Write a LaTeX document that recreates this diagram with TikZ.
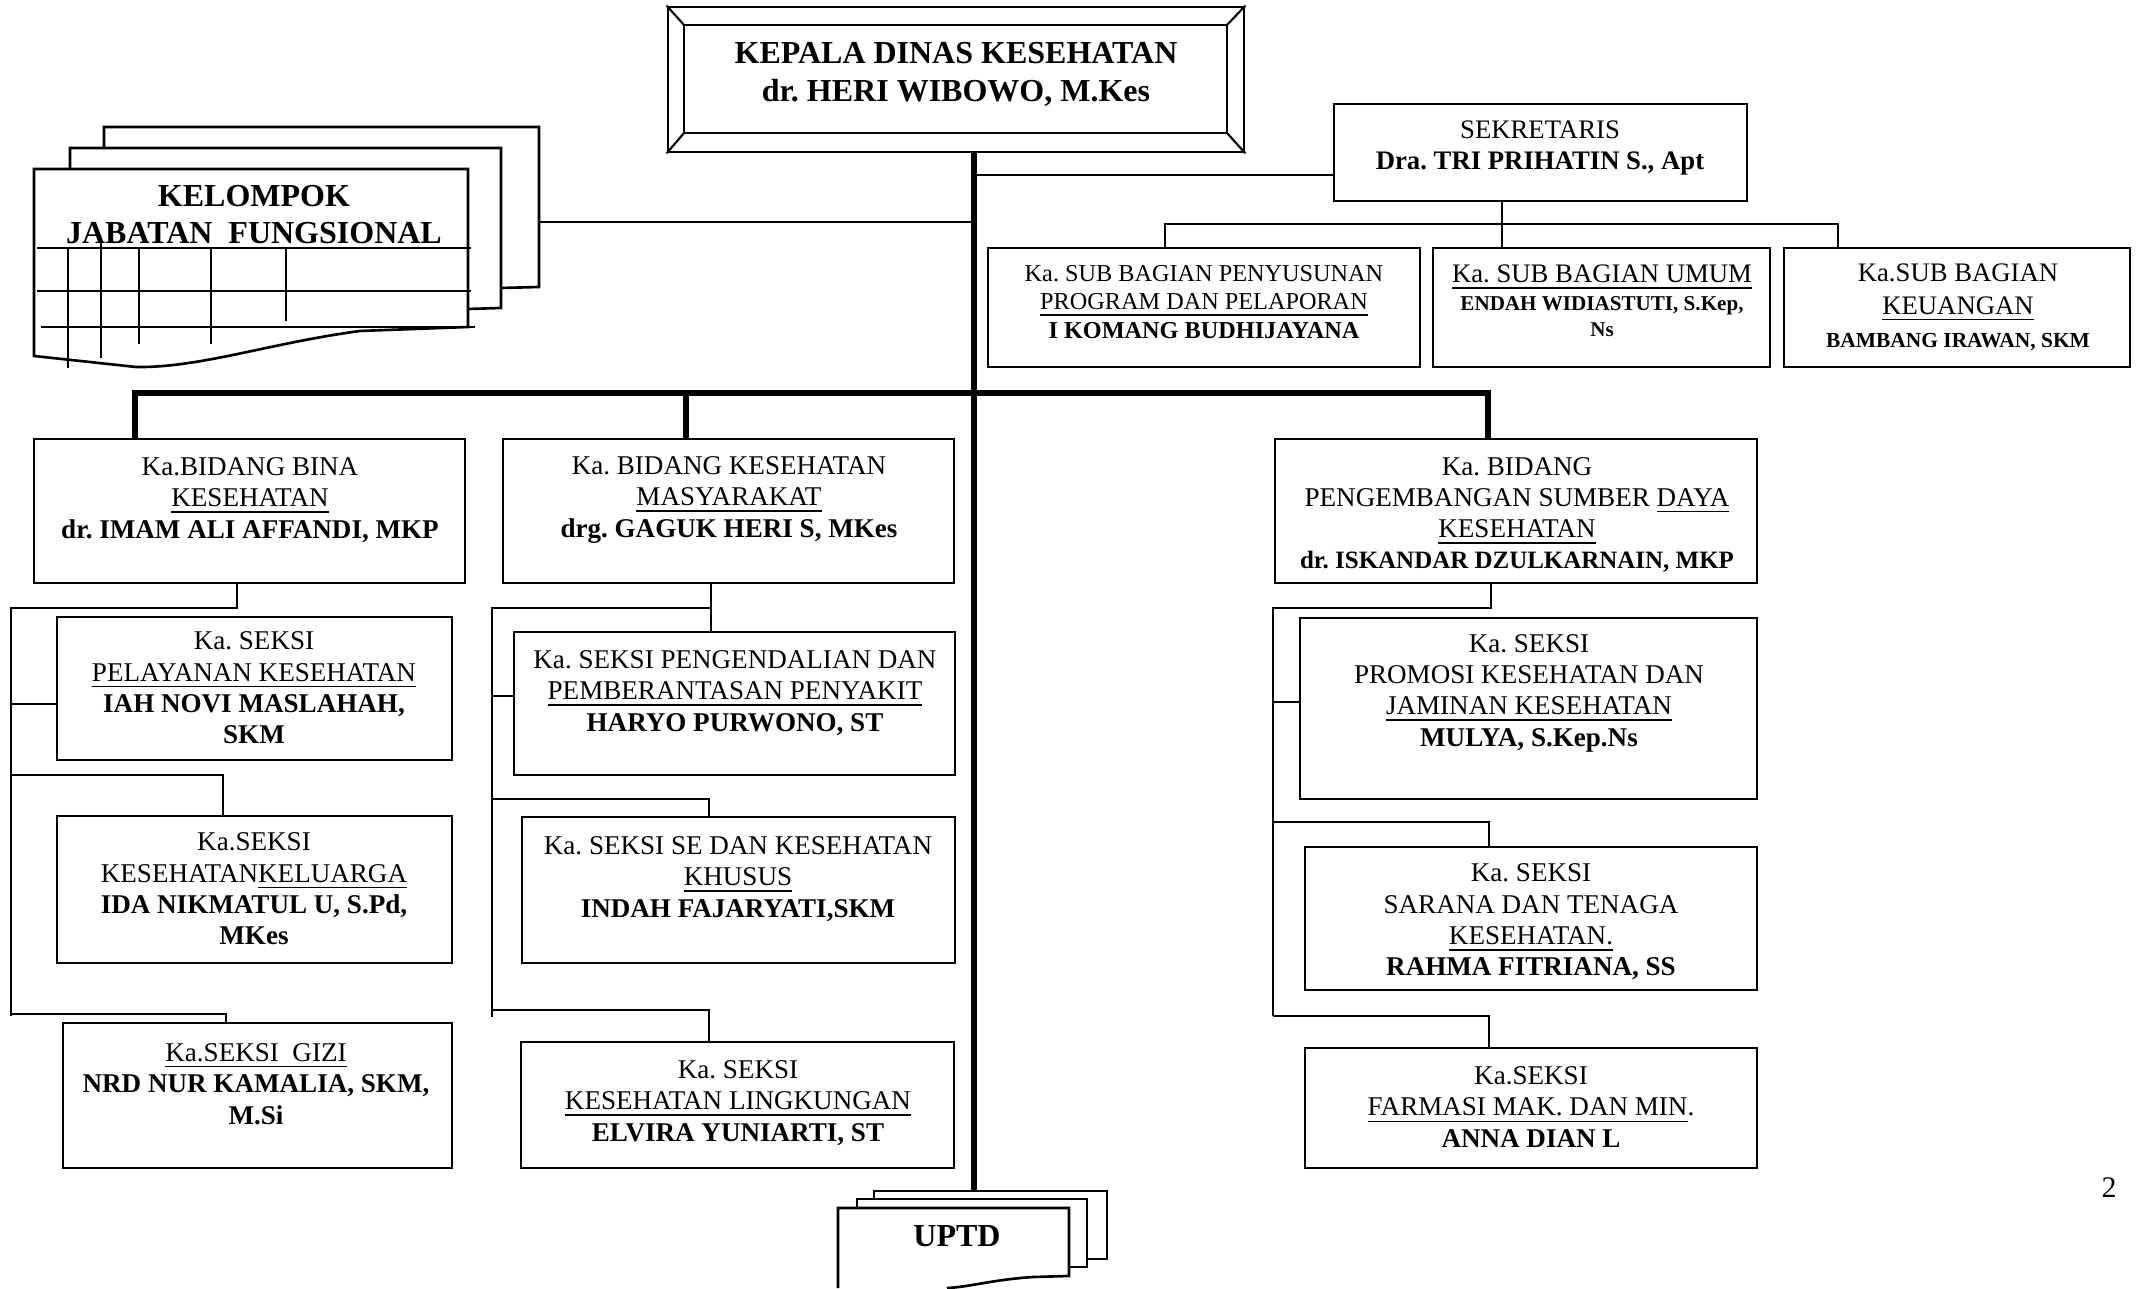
\documentclass[tikz,border=0pt]{standalone}
\usepackage{fontspec}
\setmainfont{Liberation Serif}
\usetikzlibrary{fit}
\frenchspacing
\begin{document}
\begin{tikzpicture}[x=0.01cm,y=-0.01cm,
  box/.style={draw,line width=0.75pt,inner sep=0pt},
  conn/.style={line width=0.6pt},
  heavy/.style={line width=1.5pt},
  sheet/.style={line width=0.75pt,line join=miter},
  txt/.style={align=center,inner sep=0pt,font=\fontsize{7.7}{8.9}\selectfont},
]
\useasboundingbox (0,0) rectangle (2139,1289);

% ---------- KEPALA ----------
\node[box,line width=0.8pt,fit={(668,7) (1244,152)}] (kepala) {};
\coordinate (ki1) at (684,25); \coordinate (ki2) at (1227,133);
\draw[line width=0.8pt] (ki1) rectangle (ki2);
\draw[line width=0.6pt] (kepala.north west) -- (ki1) (kepala.north east) -- (ki1 -| ki2)
  (kepala.south east) -- (ki2) (kepala.south west) -- (ki1 |- ki2);
\node[txt,font=\fontsize{9.1}{10.8}\selectfont\bfseries] (kepala-t) at (956,74)
  {KEPALA DINAS KESEHATAN\\dr. HERI WIBOWO, M.Kes};

% trunk
\coordinate (T) at (974,0);
\coordinate (uptdtop) at (974,1191);
\draw[heavy] (kepala.south -| T) -- (uptdtop);

% ---------- SEKRETARIS ----------
\node[box,fit={(1334,104) (1747,201)}] (sek) {};
\node[txt,font=\fontsize{7.6}{8.8}\selectfont] (sek-t) at (1540,148)
  {SEKRETARIS\\\textbf{Dra. TRI PRIHATIN S., Apt}};
\coordinate (sekj) at (974,175);
\draw[conn] (sekj) -- (sekj -| sek.west);

\coordinate (sb1) at (1165,224); \coordinate (sb2) at (1502,224); \coordinate (sb3) at (1838,224);
\node[box,fit={(988,248) (1420,367)}] (sub1) {};
\node[box,fit={(1433,248) (1770,367)}] (sub2) {};
\node[box,fit={(1784,248) (2130,367)}] (sub3) {};
\draw[conn] (sek.south -| sb2) -- (sb2);
\draw[conn] (sb1 |- sub1.north) -- (sb1) -- (sb3) -- (sb3 |- sub3.north);
\draw[conn] (sb2) -- (sb2 |- sub2.north);
\node[txt,font=\fontsize{6.9}{8}\selectfont] (sub1-t) at (1204,302)
  {Ka. SUB BAGIAN PENYUSUNAN\\\underline{PROGRAM DAN PELAPORAN}\\\textbf{I KOMANG BUDHIJAYANA}};
\node[txt,font=\fontsize{6}{7.4}\selectfont] (sub2-t) at (1602,301)
  {{\fontsize{7.6}{8.8}\selectfont\underline{Ka. SUB BAGIAN UMUM}}\\[0.6pt]\textbf{ENDAH WIDIASTUTI, S.Kep,}\\\textbf{Ns}};
\node[txt,font=\fontsize{7.6}{9.4}\selectfont] (sub3-t) at (1958,307)
  {Ka.SUB BAGIAN\\\underline{KEUANGAN}\\{\fontsize{6.1}{9.4}\selectfont\bfseries BAMBANG IRAWAN, SKM}};

% ---------- main bus ----------
\node[box,fit={(34,439) (465,583)}] (bina) {};
\node[box,fit={(503,439) (954,583)}] (mas) {};
\node[box,fit={(1275,439) (1757,583)}] (peng) {};
\coordinate (busL) at (135,393); \coordinate (busM) at (686,393); \coordinate (busR) at (1488,393);
\draw[heavy] (busL |- bina.north) -- (busL) -- (busR) -- (busR |- peng.north);
\draw[heavy] (busM) -- (busM |- mas.north);

\node[txt] (bina-t) at (250,500)
  {Ka.BIDANG BINA\\\underline{KESEHATAN}\\\textbf{dr. IMAM ALI AFFANDI, MKP}};
\node[txt] (mas-t) at (729,500)
  {Ka. BIDANG KESEHATAN\\\underline{MASYARAKAT}\\\textbf{drg. GAGUK HERI S, MKes}};
\node[txt] (peng-t) at (1517,515)
  {Ka. BIDANG\\PENGEMBANGAN SUMBER \underline{DAYA}\\\underline{KESEHATAN}\\{\fontsize{7.1}{8.9}\selectfont\bfseries dr. ISKANDAR DZULKARNAIN, MKP}};

% ---------- left column ----------
\node[box,fit={(57,617) (452,760)}] (pel) {};
\node[box,fit={(57,816) (452,963)}] (kel) {};
\node[box,fit={(63,1023) (452,1168)}] (gizi) {};
\coordinate (bA) at (237,608); \coordinate (bB) at (11,608); \coordinate (bC) at (11,1016);
\draw[conn] (bina.south -| bA) -- (bA) -- (bB) -- (bC);
\coordinate (bT) at (11,704);
\draw[conn] (bT) -- (bT -| pel.west);
\coordinate (bD) at (11,775); \coordinate (bE) at (223,775);
\draw[conn] (bD) -- (bE) -- (bE |- kel.north);
\coordinate (bF) at (11,1014); \coordinate (bG) at (226,1014);
\draw[conn] (bF) -- (bG) -- (bG |- gizi.north);
\node[txt] (pel-t) at (254,688)
  {Ka. SEKSI\\\underline{PELAYANAN KESEHATAN}\\\textbf{IAH NOVI MASLAHAH,}\\\textbf{SKM}};
\node[txt] (kel-t) at (254,889)
  {Ka.SEKSI\\KESEHATAN\underline{KELUARGA}\\\textbf{IDA NIKMATUL U, S.Pd,}\\\textbf{MKes}};
\node[txt] (gizi-t) at (256,1084)
  {\underline{Ka.SEKSI\ \ GIZI}\\\textbf{NRD NUR KAMALIA, SKM,}\\\textbf{M.Si}};

% ---------- middle column ----------
\node[box,fit={(514,632) (955,775)}] (pen) {};
\node[box,fit={(522,817) (955,963)}] (se) {};
\node[box,fit={(521,1042) (954,1168)}] (ling) {};
\coordinate (mA) at (711,608); \coordinate (mB) at (492,608); \coordinate (mC) at (492,1017);
\draw[conn] (mas.south -| mA) -- (mA |- pen.north);
\draw[conn] (mA) -- (mB) -- (mC);
\coordinate (mT) at (492,696);
\draw[conn] (mT) -- (mT -| pen.west);
\coordinate (mD) at (492,799); \coordinate (mE) at (709,799);
\draw[conn] (mD) -- (mE) -- (mE |- se.north);
\coordinate (mF) at (492,1010); \coordinate (mG) at (709,1010);
\draw[conn] (mF) -- (mG) -- (mG |- ling.north);
\node[txt] (pen-t) at (735,693)
  {Ka. SEKSI PENGENDALIAN DAN\\\underline{PEMBERANTASAN PENYAKIT}\\\textbf{HARYO PURWONO, ST}};
\node[txt] (se-t) at (738,879)
  {Ka. SEKSI SE DAN KESEHATAN\\\underline{KHUSUS}\\\textbf{INDAH FAJARYATI,SKM}};
\node[txt] (ling-t) at (738,1103)
  {Ka. SEKSI\\\underline{KESEHATAN LINGKUNGAN}\\\textbf{ELVIRA YUNIARTI, ST}};

% ---------- right column ----------
\node[box,fit={(1300,618) (1757,799)}] (prom) {};
\node[box,fit={(1305,847) (1757,990)}] (sar) {};
\node[box,fit={(1305,1048) (1757,1168)}] (far) {};
\coordinate (rA) at (1491,608); \coordinate (rB) at (1273,608); \coordinate (rC) at (1273,1016);
\draw[conn] (peng.south -| rA) -- (rA) -- (rB) -- (rC);
\coordinate (rT) at (1273,702);
\draw[conn] (rT) -- (rT -| prom.west);
\coordinate (rD) at (1273,822); \coordinate (rE) at (1489,822);
\draw[conn] (rD) -- (rE) -- (rE |- sar.north);
\coordinate (rF) at (1273,1016); \coordinate (rG) at (1489,1016);
\draw[conn] (rF) -- (rG) -- (rG |- far.north);
\node[txt] (prom-t) at (1529,693)
  {Ka. SEKSI\\PROMOSI KESEHATAN DAN\\\underline{JAMINAN KESEHATAN}\\\textbf{MULYA, S.Kep.Ns}};
\node[txt] (sar-t) at (1531,922)
  {Ka. SEKSI\\SARANA DAN TENAGA\\\underline{KESEHATAN.}\\\textbf{RAHMA FITRIANA, SS}};
\node[txt] (far-t) at (1531,1107)
  {Ka.SEKSI\\\underline{FARMASI MAK. DAN MIN}.\\\textbf{ANNA DIAN L}};

% ---------- KELOMPOK JABATAN FUNGSIONAL ----------
\draw[sheet] (104,148) -- (104,127) -- (539,127) -- (539,287) -- (501,288);
\draw[sheet] (70,169) -- (70,148) -- (501,148) -- (501,308) -- (468,309);
\draw[sheet] (34,356) -- (34,169) -- (468,169) -- (468,327) -- (360,331)
  .. controls (270,343) and (200,368) .. (136,367) -- cycle;
\draw[conn] (37,248) -- (471,248) (37,291) -- (471,291) (41,327) -- (475,327);
\draw[conn] (68,248) -- (68,368) (101,240) -- (101,358) (139,248) -- (139,344)
  (211,248) -- (211,344) (286,248) -- (286,321);
\node[txt,font=\fontsize{9.1}{10.5}\selectfont\bfseries] (kjf-t) at (254,215)
  {KELOMPOK\\JABATAN\ \ FUNGSIONAL};
\coordinate (kjfR) at (539,222);
\draw[conn] (kjfR) -- (kjfR -| T);

% ---------- UPTD ----------
\draw[sheet] (874,1199) -- (874,1191) -- (1107,1191) -- (1107,1259) -- (1087,1259);
\draw[sheet] (857,1208) -- (857,1199) -- (1087,1199) -- (1087,1267) -- (1069,1267);
\draw[sheet] (838,1288) -- (838,1208) -- (1069,1208) -- (1069,1276) -- (1033,1277)
  .. controls (990,1280) and (970,1287) .. (947,1288);
\node[inner sep=0pt,font=\fontsize{9.1}{11}\selectfont\bfseries] (uptd) at (957,1236) {UPTD};

% page number
\node[inner sep=0pt,font=\fontsize{8.5}{10}\selectfont] (pg) at (2109,1188) {2};
\end{tikzpicture}
\end{document}
